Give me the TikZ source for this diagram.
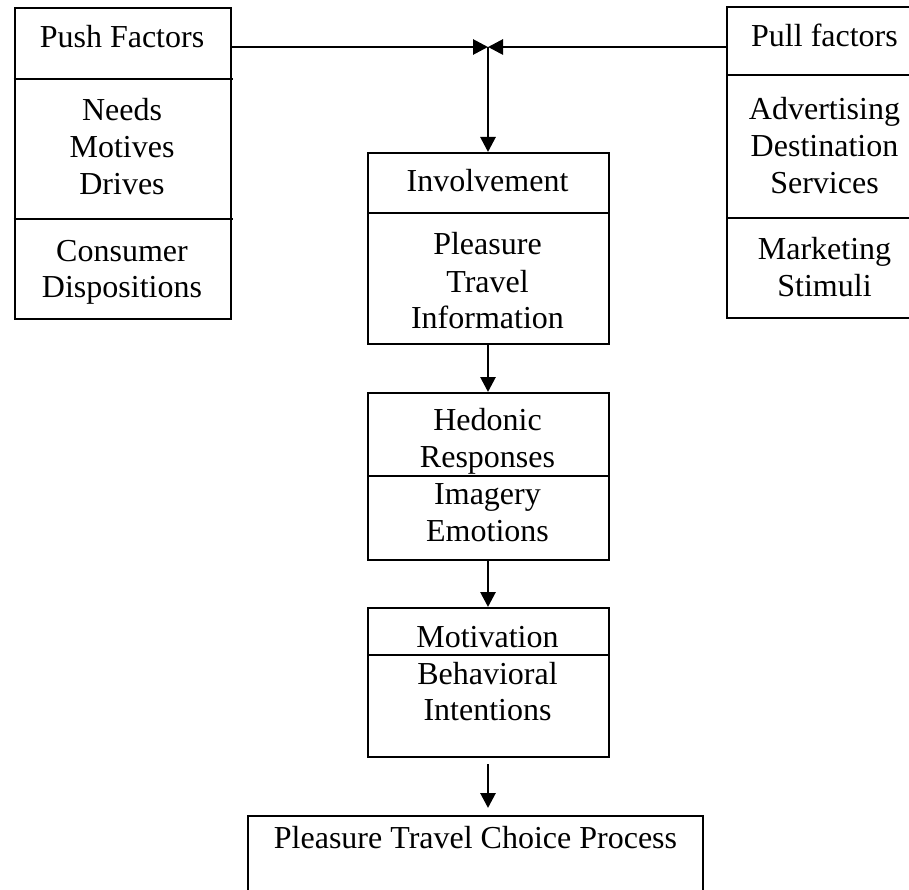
\documentclass[tikz,border=0pt]{standalone}
\usepackage{fontspec}
\setmainfont{Liberation Serif}
\usetikzlibrary{arrows.meta}
\tikzset{
  boxline/.style={line width=2.2pt},
  frame/.style={draw, line width=2.2pt, inner sep=0pt, anchor=north west},
  arr/.style={line width=2.8pt, -{Triangle[length=15pt,width=15pt]}},
  lbl/.style={anchor=base, inner sep=0pt, font=\fontsize{32}{36.5}\selectfont}
}
\begin{document}
\begin{tikzpicture}[x=1pt,y=-1pt]
\useasboundingbox (0,0) rectangle (909,890);
% left box
\node[frame, minimum width=216.5pt, minimum height=311pt] (push) at (13.5,7) {};
\draw[boxline] (push.west |- 0,79) -- (233,79);
\draw[boxline] (push.west |- 0,219) -- (233,219);
\node[lbl] (t1) at (122,48) {Push Factors};
\node[lbl] (t2) at (122,120.5) {Needs};
\node[lbl] (t3) at (122,157.5) {Motives};
\node[lbl] (t4) at (122,194.5) {Drives};
\node[lbl] (t5) at (122,261.5) {Consumer};
\node[lbl] (t6) at (122,298) {Dispositions};
% right box (open at the right)
\coordinate (pull) at (727,47);
\draw[boxline] (909,7) -- (727,7) -- (727,318) -- (909,318);
\draw[boxline] (727,75) -- (909,75);
\draw[boxline] (727,218) -- (909,218);
\node[lbl] (r1) at (824.5,47) {Pull factors};
\node[lbl] (r2) at (824.5,120) {Advertising};
\node[lbl] (r3) at (824.5,157) {Destination};
\node[lbl] (r4) at (824.5,193.5) {Services};
\node[lbl] (r5) at (824.5,260) {Marketing};
\node[lbl] (r6) at (824.5,297) {Stimuli};
% junction
\coordinate (junc) at (488,47);
% involvement
\node[frame, minimum width=241pt, minimum height=191pt] (inv) at (367,152) {};
\draw[boxline] (inv.west |- 0,213) -- (inv.east |- 0,213);
\node[lbl] (i1) at (487.5,192) {Involvement};
\node[lbl] (i2) at (487.5,255) {Pleasure};
\node[lbl] (i3) at (487.5,292) {Travel};
\node[lbl] (i4) at (487.5,328.5) {Information};
% hedonic
\node[frame, minimum width=241pt, minimum height=167pt] (hed) at (367,392) {};
\draw[boxline] (hed.west |- 0,476) -- (hed.east |- 0,476);
\node[lbl] (h1) at (487.5,430) {Hedonic};
\node[lbl] (h2) at (487.5,467.5) {Responses};
\node[lbl] (h3) at (487.5,504) {Imagery};
\node[lbl] (h4) at (487.5,541) {Emotions};
% motivation
\node[frame, minimum width=241pt, minimum height=149pt] (mot) at (367,607) {};
\draw[boxline] (mot.west |- 0,655) -- (mot.east |- 0,655);
\node[lbl] (m1) at (487.5,647) {Motivation};
\node[lbl] (m2) at (487.5,684) {Behavioral};
\node[lbl] (m3) at (487.5,720.5) {Intentions};
% choice (open at the bottom)
\coordinate (choice) at (475.5,816);
\draw[boxline] (248,895) -- (248,816) -- (703,816) -- (703,895);
\node[lbl] (c1) at (475.5,848) {Pleasure Travel Choice Process};
% connectors
\draw[arr] (push.east |- junc) -- (junc);
\draw[arr] (pull) -- (junc);
\draw[arr] (junc) -- (inv.north -| junc);
\draw[arr] (inv.south -| junc) -- (hed.north -| junc);
\draw[arr] (hed.south -| junc) -- (mot.north -| junc);
\draw[arr, shorten <=6pt, shorten >=8pt] (mot.south -| junc) -- (choice -| junc);
\end{tikzpicture}
\end{document}
